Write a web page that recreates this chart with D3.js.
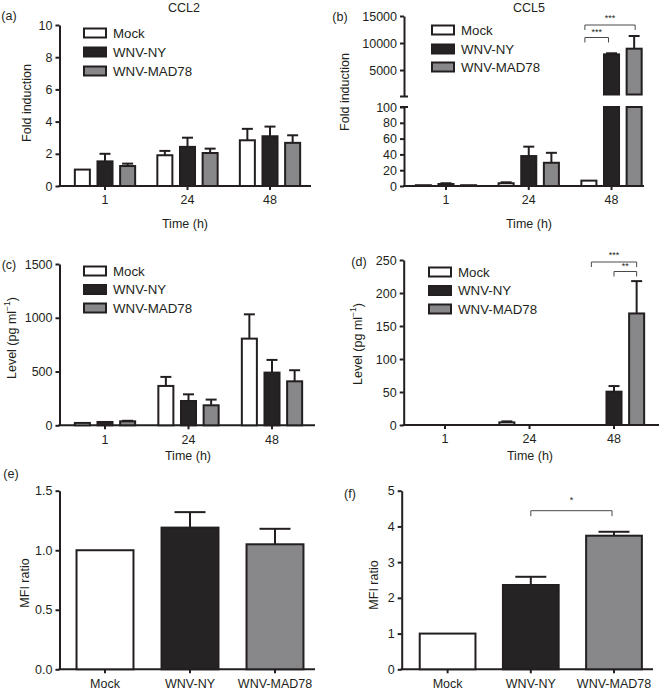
<!DOCTYPE html>
<html><head><meta charset="utf-8">
<script src="https://cdn.jsdelivr.net/npm/d3@7"></script>
<style>
body{margin:0;background:#fff}
text{font-family:"Liberation Sans",Arial,Helvetica,sans-serif;fill:#231f20}
</style>
</head><body>
<svg id="c" width="662" height="693"></svg>
<script>
// ---------- data ----------
const timeLabels = ["1", "24", "48"];
const seriesNames = ["Mock", "WNV-NY", "WNV-MAD78"];

// (a) CCL2 fold induction
const ccl2Mock = [1.02, 1.91, 2.84];
const ccl2MockErr = [0, 0.27, 0.71];
const ccl2NY = [1.53, 2.43, 3.09];
const ccl2NYErr = [0.47, 0.57, 0.60];
const ccl2MAD = [1.24, 2.05, 2.68];
const ccl2MADErr = [0.15, 0.27, 0.47];
const ticksA = [0, 2, 4, 6, 8, 10];

// (b) CCL5 fold induction (broken axis)
const ccl5Mock = [1.0, 3.5, 6.8];
const ccl5MockErr = [0.3, 1.2, 0.5];
const ccl5NY = [2.5, 37.9, 7900];
const ccl5NYErr = [1.0, 11.9, 200];
const ccl5MAD = [1.0, 29.4, 8950];
const ccl5MADErr = [0.3, 12.6, 2350];
const ticksBLow = [0, 20, 40, 60, 80, 100];
const ticksBHigh = [5000, 10000, 15000];

// (c) CCL2 protein level
const protCMock = [22, 366, 806];
const protCMockErr = [3, 84, 226];
const protCNY = [31, 226, 490];
const protCNYErr = [4, 62, 118];
const protCMAD = [37, 186, 409];
const protCMADErr = [5, 53, 103];
const ticksC = [0, 500, 1000, 1500];

// (d) CCL5 protein level
const protDMock = [0, 4, 0];
const protDMockErr = [0, 1.5, 0];
const protDNY = [0, 0, 50.5];
const protDNYErr = [0, 0, 8.5];
const protDMAD = [0, 0, 169];
const protDMADErr = [0, 0, 49];
const ticksD = [0, 50, 100, 150, 200, 250];

// (e) MFI ratio
const mfiE = [1.0, 1.19, 1.05];
const mfiEErr = [0, 0.13, 0.13];
const ticksE = [0, 0.5, 1.0, 1.5];

// (f) MFI ratio
const mfiF = [1.0, 2.36, 3.74];
const mfiFErr = [0, 0.23, 0.11];
const ticksF = [0, 1, 2, 3, 4, 5];

// ---------- style ----------
const INK = "#231f20";
const FS = 12.5;
const fills = {"Mock": "#ffffff", "WNV-NY": "#262324", "WNV-MAD78": "#88888a"};
const svg = d3.select("#c");

function styleAxis(a) {
  a.attr("font-size", FS).attr("font-family", null);
  a.select(".domain").attr("stroke", INK).attr("stroke-width", 2);
  a.selectAll(".tick line").attr("stroke", INK).attr("stroke-width", 2);
  a.selectAll(".tick text").attr("fill", INK);
}
function yAxis(g, x, scale, ticks, fmt) {
  const ax = d3.axisLeft(scale).tickValues(ticks).tickSize(4).tickPadding(3)
    .tickSizeOuter(0).tickFormat(fmt || d3.format("d"));
  const a = g.append("g").attr("transform", `translate(${x},0)`).call(ax);
  styleAxis(a);
  return a;
}
function xAxis(g, y0, scale, x0, x1) {
  g.append("line").attr("x1", x0 - 1).attr("x2", x1).attr("y1", y0).attr("y2", y0)
    .attr("stroke", INK).attr("stroke-width", 2);
  const ax = d3.axisBottom(scale).tickSize(4).tickPadding(3);
  const a = g.append("g").attr("transform", `translate(0,${y0})`).call(ax);
  styleAxis(a);
  a.select(".domain").remove();
  a.selectAll(".tick text").attr("dy", "0.9em");
  return a;
}
function yLabel(g, cx, cy, parts) {
  const t = g.append("text").attr("transform", `translate(${cx},${cy}) rotate(-90)`)
    .attr("text-anchor", "middle").attr("dominant-baseline", "central").attr("font-size", FS);
  parts.forEach(p => {
    const s = t.append("tspan").text(p.t);
    if (p.sup) s.attr("baseline-shift", "super").attr("font-size", 8.5);
  });
}
function text(g, x, y, s, size, anchor) {
  g.append("text").attr("x", x).attr("y", y).attr("font-size", size || FS)
    .attr("text-anchor", anchor || "middle").attr("dominant-baseline", "central").text(s);
}
function legend(g, x, ys) {
  seriesNames.forEach((s, i) => {
    g.append("rect").attr("x", x + 1).attr("y", ys[i] - 4.5).attr("width", 22).attr("height", 9)
      .attr("fill", fills[s]).attr("stroke", INK).attr("stroke-width", 2);
    text(g, x + 30, ys[i], s, 13.3, "start");
  });
}
function bar(g, cx, w, yTop, yBot, fill) {
  if (yBot - yTop <= 0.01) return;
  g.append("rect").attr("x", cx - w / 2).attr("y", yTop).attr("width", w).attr("height", yBot - yTop)
    .attr("fill", fill).attr("stroke", INK).attr("stroke-width", 2);
}
function errBar(g, cx, yFrom, yTo, cap) {
  if (yFrom - yTo < 0.5) return;
  g.append("line").attr("x1", cx).attr("x2", cx).attr("y1", yFrom).attr("y2", yTo)
    .attr("stroke", INK).attr("stroke-width", 2);
  g.append("line").attr("x1", cx - cap / 2).attr("x2", cx + cap / 2).attr("y1", yTo).attr("y2", yTo)
    .attr("stroke", INK).attr("stroke-width", 2);
}
function bracket(g, x1, x2, y, drop, label, ly) {
  g.append("path").attr("d", `M${x1},${y + drop}V${y}H${x2}V${y + drop}`)
    .attr("fill", "none").attr("stroke", "#4a4a4a").attr("stroke-width", 1);
  text(g, (x1 + x2) / 2, ly, label, 9);
}

// ---------- grouped panels ----------
function grouped(o) {
  const g = svg.append("g");
  const x = d3.scaleBand().domain(timeLabels).range(o.band);
  const sub = d3.scaleBand().domain(seriesNames).range([-34, 34]).paddingInner(0.336).paddingOuter(0.17);
  const bw = sub.bandwidth();
  const cxOf = (t, s) => x(t) + x.bandwidth() / 2 + sub(s) + bw / 2;

  yAxis(g, o.ax, o.y, o.ticks);
  xAxis(g, o.y.range()[0], x, o.ax, o.axEnd);

  seriesNames.forEach((s, si) => {
    timeLabels.forEach((t, ti) => {
      const v = o.vals[si][ti], e = o.errs[si][ti];
      const cx = cxOf(t, s);
      if (v <= 0) return;
      const y0 = o.y(0);
      bar(g, cx, bw, o.y(v), y0, fills[s]);
      errBar(g, cx, o.y(v), o.y(v + e), 11);
    });
  });
  return {g, x, cxOf};
}

// (a)
const yA = d3.scaleLinear().domain([0, 10]).range([186, 25]);
const pA = grouped({band: [63.75, 311.25], ax: 59.5, axEnd: 311, y: yA, ticks: ticksA,
  vals: [ccl2Mock, ccl2NY, ccl2MAD], errs: [ccl2MockErr, ccl2NYErr, ccl2MADErr]});
text(pA.g, 184, 8, "CCL2");
text(pA.g, 9, 16, "(a)");
text(pA.g, 185, 224, "Time (h)");
yLabel(pA.g, 27, 103, [{t: "Fold induction"}]);
legend(pA.g, 83, [33, 52, 71]);

// (b) broken axis
(function () {
  const g = svg.append("g");
  const ax = 404;
  const yLow = d3.scaleLinear().domain([0, 100]).range([186, 107]);
  const yHigh = d3.scaleLinear().domain([100, 15000]).range([96.5, 16]);
  const x = d3.scaleBand().domain(timeLabels).range([404.6, 652.9]);
  const sub = d3.scaleBand().domain(seriesNames).range([-34, 34]).paddingInner(0.336).paddingOuter(0.17);
  const bw = sub.bandwidth();
  const cxOf = (t, s) => x(t) + x.bandwidth() / 2 + sub(s) + bw / 2;

  yAxis(g, ax, yLow, ticksBLow);
  yAxis(g, ax, yHigh, ticksBHigh);
  [yHigh.range()[0], yLow.range()[1]].forEach(yy => {
    g.append("line").attr("x1", ax - 4).attr("x2", ax + 4).attr("y1", yy).attr("y2", yy)
      .attr("stroke", INK).attr("stroke-width", 2);
  });
  xAxis(g, 186, x, ax, 644);

  const vals = [ccl5Mock, ccl5NY, ccl5MAD], errs = [ccl5MockErr, ccl5NYErr, ccl5MADErr];
  seriesNames.forEach((s, si) => {
    timeLabels.forEach((t, ti) => {
      const v = vals[si][ti], e = errs[si][ti];
      const cx = cxOf(t, s);
      if (v <= 100) {
        bar(g, cx, bw, yLow(v), yLow(0), fills[s]);
        errBar(g, cx, yLow(v), yLow(Math.min(v + e, 100)), 11);
      } else {
        bar(g, cx, bw, yLow(100), yLow(0), fills[s]);
        bar(g, cx, bw, yHigh(v), yHigh(100) - 2, fills[s]);
        errBar(g, cx, yHigh(v), yHigh(v + e), 11);
      }
    });
  });
  text(g, 529, 8, "CCL5");
  text(g, 340, 17, "(b)");
  text(g, 529, 224, "Time (h)");
  yLabel(g, 345, 92, [{t: "Fold induction"}]);
  legend(g, 431, [30, 49, 67]);
  const c48 = s => cxOf("48", s);
  bracket(g, c48("Mock") - 4, c48("WNV-MAD78") + 1, 25, 5, "***", 18);
  bracket(g, c48("Mock") - 4, c48("WNV-NY") - 3, 37.5, 5, "***", 32);
})();

// (c)
const yC = d3.scaleLinear().domain([0, 1500]).range([425.3, 264]);
const pC = grouped({band: [63.25, 313.75], ax: 59.5, axEnd: 315, y: yC, ticks: ticksC,
  vals: [protCMock, protCNY, protCMAD], errs: [protCMockErr, protCNYErr, protCMADErr]});
text(pC.g, 9, 265, "(c)");
text(pC.g, 188, 456, "Time (h)");
yLabel(pC.g, 12, 338, [{t: "Level (pg ml"}, {t: "−1", sup: true}, {t: ")"}]);
legend(pC.g, 83, [271, 289.5, 308]);

// (d)
const yD = d3.scaleLinear().domain([0, 250]).range([425, 260]);
const pD = grouped({band: [402.75, 656.25], ax: 403.7, axEnd: 659, y: yD, ticks: ticksD,
  vals: [protDMock, protDNY, protDMAD], errs: [protDMockErr, protDNYErr, protDMADErr]});
text(pD.g, 359, 262, "(d)");
text(pD.g, 530, 456, "Time (h)");
yLabel(pD.g, 358, 344, [{t: "Level (pg ml"}, {t: "−1", sup: true}, {t: ")"}]);
legend(pD.g, 428, [272, 290.5, 309]);
{
  const c48 = s => pD.cxOf("48", s);
  bracket(pD.g, c48("Mock"), c48("WNV-MAD78"), 262, 5, "***", 255);
  bracket(pD.g, c48("WNV-NY"), c48("WNV-MAD78"), 271.5, 5, "**", 266);
}

// ---------- single-bar panels ----------
function single(o) {
  const g = svg.append("g");
  const x = d3.scaleBand().domain(seriesNames).range(o.band);
  const bw = x.bandwidth() * 0.67;
  yAxis(g, o.ax, o.y, o.ticks, o.fmt);
  xAxis(g, o.y.range()[0], x, o.ax, o.axEnd);
  seriesNames.forEach((s, i) => {
    const cx = x(s) + x.bandwidth() / 2;
    bar(g, cx, bw, o.y(o.vals[i]), o.y(0), fills[s]);
    errBar(g, cx, o.y(o.vals[i]), o.y(o.vals[i] + o.errs[i]), 31);
  });
  return {g, x, cx: s => x(s) + x.bandwidth() / 2};
}

const yE = d3.scaleLinear().domain([0, 1.5]).range([669.3, 490.7]);
const pE = single({band: [62.5, 317.5], ax: 59.5, axEnd: 315, y: yE, ticks: ticksE,
  fmt: d3.format(".1f"), vals: mfiE, errs: mfiEErr});
text(pE.g, 11, 474, "(e)");
yLabel(pE.g, 25, 583, [{t: "MFI ratio"}]);

const yF = d3.scaleLinear().domain([0, 5]).range([669.3, 490.7]);
const pF = single({band: [406, 655.6], ax: 401.7, axEnd: 653, y: yF, ticks: ticksF,
  vals: mfiF, errs: mfiFErr});
text(pF.g, 350, 494, "(f)");
yLabel(pF.g, 374, 585, [{t: "MFI ratio"}]);
bracket(pF.g, pF.cx("WNV-NY"), pF.cx("WNV-MAD78") - 2, 510.7, 5.5, "*", 500);
</script>
</body></html>
